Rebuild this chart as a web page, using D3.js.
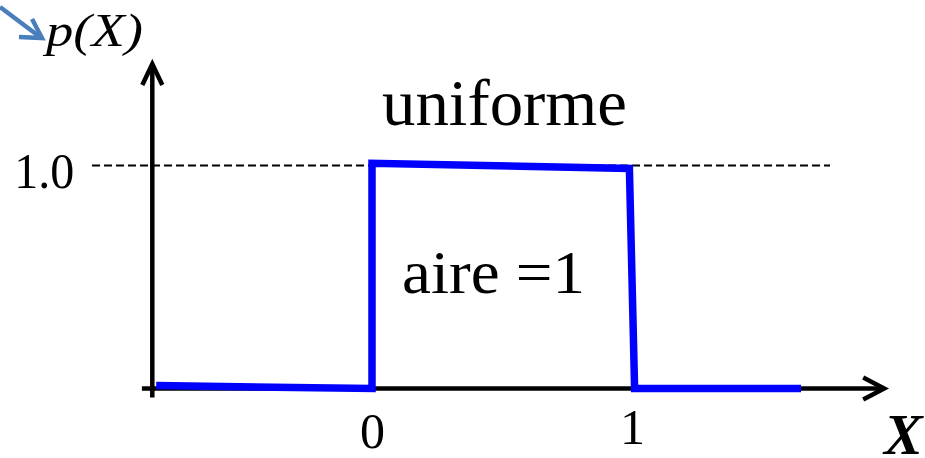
<!DOCTYPE html>
<html>
<head>
<meta charset="utf-8">
<script src="https://cdn.jsdelivr.net/npm/d3@7"></script>
<style>
  html, body { margin: 0; padding: 0; background: #fff; }
  svg { display: block; }
</style>
</head>
<body>
<svg id="chart" width="925" height="458"></svg>
<script>
// Uniform density p(X) on [0, 1], drawn as a hand-sketched step line
const densityX = [-0.83, 0, 0, 0.99, 1.01, 1.65];
const densityY = [0.013, 0, 1.01, 0.987, 0, 0];

// Tick values and their labels
const xTicks = [0, 1];
const xTickLabels = ["0", "1"];
const yTicks = [1];
const yTickLabels = ["1.0"];

// Axis extents (in data units)
const xAxisRange = [-0.885, 1.97];
const yAxisRange = [-0.04, 1.455];
const yAxisAt = -0.845;

const svg = d3.select("#chart");

const x = d3.scaleLinear().domain([0, 1]).range([372, 632]);
const y = d3.scaleLinear().domain([0, 1]).range([388.5, 165.5]);

const serif = "'Liberation Serif', 'Times New Roman', serif";

// Dashed reference line at p = 1.0
svg.append("line")
  .attr("x1", 92).attr("x2", 830)
  .attr("y1", y(yTicks[0])).attr("y2", y(yTicks[0]))
  .attr("stroke", "#000").attr("stroke-width", 2)
  .attr("stroke-dasharray", "8,4");

// Axes with open arrowheads
const axisG = svg.append("g")
  .attr("stroke", "#000").attr("stroke-width", 4.5)
  .attr("fill", "none").attr("stroke-linecap", "butt");

// horizontal axis
axisG.append("line")
  .attr("x1", x(xAxisRange[0])).attr("x2", x(xAxisRange[1]) - 2)
  .attr("y1", y(0)).attr("y2", y(0));
const xTip = [x(xAxisRange[1]), y(0)];
axisG.append("path")
  .attr("stroke-linejoin", "miter")
  .attr("d", `M${xTip[0] - 21},${xTip[1] - 11}L${xTip[0]},${xTip[1]}L${xTip[0] - 21},${xTip[1] + 11}`);

// vertical axis
axisG.append("line")
  .attr("x1", x(yAxisAt)).attr("x2", x(yAxisAt))
  .attr("y1", y(yAxisRange[0])).attr("y2", y(yAxisRange[1]) + 2);
const yTip = [x(yAxisAt), y(yAxisRange[1])];
axisG.append("path")
  .attr("stroke-linejoin", "miter")
  .attr("d", `M${yTip[0] - 10},${yTip[1] + 21}L${yTip[0]},${yTip[1]}L${yTip[0] + 10},${yTip[1] + 21}`);

// Density line
const line = d3.line()
  .x((d, i) => x(densityX[i]))
  .y((d, i) => y(densityY[i]));
svg.append("path")
  .datum(densityX)
  .attr("d", line)
  .attr("fill", "none")
  .attr("stroke", "#0000ff")
  .attr("stroke-width", 7.5)
  .attr("stroke-linejoin", "miter")
  .attr("stroke-linecap", "butt");

// X tick labels
const xAxis = d3.axisBottom(x)
  .tickValues(xTicks)
  .tickFormat((d, i) => xTickLabels[i])
  .tickSize(0)
  .tickPadding(22);
const gx = svg.append("g").attr("transform", `translate(0,${y(0)})`).call(xAxis);
gx.select(".domain").remove();
gx.selectAll("text")
  .attr("font-family", serif).attr("font-size", 50).attr("fill", "#000")
  .attr("dy", (d, i) => i === 0 ? "0.74em" : "0.66em");

// Y tick labels
const yAxis = d3.axisLeft(y)
  .tickValues(yTicks)
  .tickFormat((d, i) => yTickLabels[i])
  .tickSize(0)
  .tickPadding(78);
const gy = svg.append("g").attr("transform", `translate(${x(yAxisAt)},0)`).call(yAxis);
gy.select(".domain").remove();
gy.selectAll("text")
  .attr("font-family", serif).attr("font-size", 51).attr("fill", "#000")
  .attr("dy", "0.44em")
  .attr("textLength", 60).attr("lengthAdjust", "spacingAndGlyphs");

// Axis titles
svg.append("text")
  .attr("x", 46).attr("y", 46)
  .attr("font-family", serif).attr("font-style", "italic").attr("font-size", 46)
  .attr("textLength", 97).attr("lengthAdjust", "spacingAndGlyphs")
  .text("p(X)");

svg.append("text")
  .attr("x", 884).attr("y", 454)
  .attr("font-family", serif).attr("font-style", "italic").attr("font-weight", "bold")
  .attr("font-size", 58)
  .text("X");

// Blue pointer arrow toward the p(X) title
const pointer = svg.append("g")
  .attr("stroke", "#4a7ebb").attr("stroke-width", 4.5).attr("fill", "none");
pointer.append("line").attr("x1", 0).attr("y1", 7).attr("x2", 40).attr("y2", 37);
pointer.append("path")
  .attr("stroke-linejoin", "miter")
  .attr("d", "M32,19L42,38L19,37");

// Annotations
svg.append("text")
  .attr("x", 382).attr("y", 125)
  .attr("font-family", serif).attr("font-size", 66)
  .attr("textLength", 245).attr("lengthAdjust", "spacingAndGlyphs")
  .text("uniforme");

svg.append("text")
  .attr("x", 402).attr("y", 293)
  .attr("font-family", serif).attr("font-size", 62)
  .attr("textLength", 183).attr("lengthAdjust", "spacingAndGlyphs")
  .text("aire =1");
</script>
</body>
</html>
